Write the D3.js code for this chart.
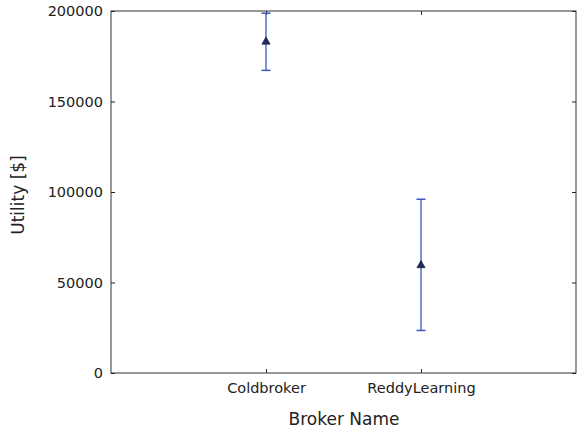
<!DOCTYPE html>
<html><head><meta charset="utf-8">
<script src="https://cdn.jsdelivr.net/npm/d3@7"></script>
<style>body{margin:0;background:#fff}text{font-family:"DejaVu Sans",sans-serif;fill:#222}</style>
</head><body><svg id="c" width="577" height="431"></svg>
<script>
const categories = ["Coldbroker", "ReddyLearning"];
const means = [183000, 59500];
const lows = [167200, 23500];
const highs = [198800, 96000];
const yTicks = [0, 50000, 100000, 150000, 200000];

const svg = d3.select("#c");
const m = {l:111, r:576, t:11, b:373};
const x = d3.scaleLinear().domain([0, 3]).range([m.l, m.r]);
const y = d3.scaleLinear().domain([0, 200000]).range([m.b, m.t]);

svg.append("rect").attr("x", m.l).attr("y", m.t).attr("width", m.r - m.l).attr("height", m.b - m.t)
  .attr("fill", "none").attr("stroke", "#333").attr("stroke-width", 1);

const tickLen = 4;
const FF = "DejaVu Sans";
const ya = svg.append("g").attr("transform", `translate(${m.l},0)`)
  .call(d3.axisLeft(y).tickValues(yTicks).tickFormat(d3.format("d")).tickSizeInner(-tickLen).tickSizeOuter(0).tickPadding(8));
ya.attr("font-family", FF).attr("font-size", 14.5);
ya.select(".domain").remove();
ya.selectAll("text").style("fill", "#222");
ya.selectAll("line").attr("stroke", "#222");
const yr = svg.append("g").attr("transform", `translate(${m.r},0)`)
  .call(d3.axisRight(y).tickValues(yTicks).tickFormat("").tickSizeInner(-tickLen).tickSizeOuter(0));
yr.select(".domain").remove();
yr.selectAll("line").attr("stroke", "#222");

const xa = svg.append("g").attr("transform", `translate(0,${m.b})`)
  .call(d3.axisBottom(x).tickValues([1, 2]).tickFormat((d) => categories[d - 1]).tickSizeInner(-tickLen).tickSizeOuter(0).tickPadding(10));
xa.attr("font-family", FF).attr("font-size", 14.5);
xa.select(".domain").remove();
xa.selectAll("text").style("fill", "#222");
xa.selectAll("line").attr("stroke", "#222");
const xt = svg.append("g").attr("transform", `translate(0,${m.t})`)
  .call(d3.axisTop(x).tickValues([1, 2]).tickFormat("").tickSizeInner(-tickLen).tickSizeOuter(0));
xt.select(".domain").remove();
xt.selectAll("line").attr("stroke", "#222");

svg.append("text").attr("x", 344).attr("y", 425).attr("text-anchor", "middle").attr("font-size", 17).text("Broker Name");
svg.append("text").attr("transform", "translate(24,195) rotate(-90)").attr("text-anchor", "middle").attr("font-size", 17).text("Utility [$]");

const g = svg.append("g");
categories.forEach((c, i) => {
  const cx = x(i + 1);
  g.append("line").attr("x1", cx).attr("x2", cx).attr("y1", y(lows[i])).attr("y2", y(highs[i]))
    .attr("stroke", "#3a56c0").attr("stroke-opacity", 0.85).attr("stroke-width", 1.5);
  [lows[i], highs[i]].forEach(v => {
    g.append("line").attr("x1", cx - 4.5).attr("x2", cx + 4.5).attr("y1", y(v)).attr("y2", y(v))
      .attr("stroke", "#3a56c0").attr("stroke-width", 1.5);
  });
  g.append("path").attr("d", d3.symbol(d3.symbolTriangle, 30)()).attr("transform", `translate(${cx},${y(means[i])})`)
    .attr("fill", "#1d2a6a").attr("stroke", "#111").attr("stroke-width", 0.6);
});
</script></body></html>
